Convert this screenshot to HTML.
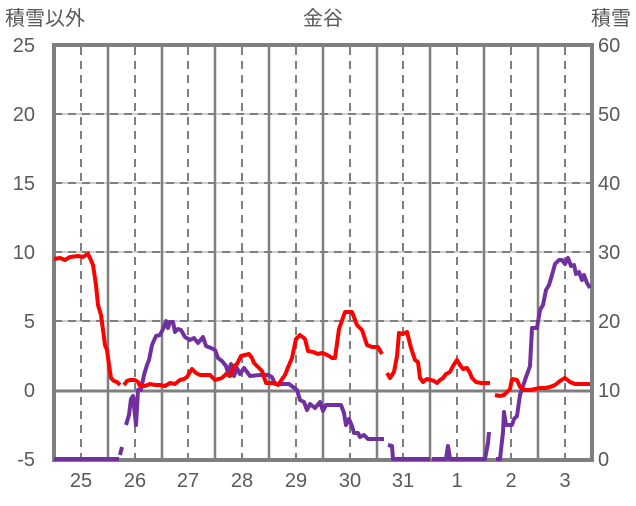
<!DOCTYPE html>
<html><head><meta charset="utf-8"><style>
body{margin:0;background:#fff}
svg text{font-family:"Liberation Sans","Noto Sans CJK JP",sans-serif;fill:#595959;font-size:20px}
</style></head><body>
<svg width="636" height="501" viewBox="0 0 636 501">
<g stroke="#bfbfbf" stroke-width="1.5">
<line x1="54" y1="114" x2="592" y2="114"/><line x1="54" y1="183" x2="592" y2="183"/><line x1="54" y1="252" x2="592" y2="252"/><line x1="54" y1="321" x2="592" y2="321"/>
</g>
<g stroke="#7f7f7f" stroke-width="2" stroke-dasharray="8,6">
<line x1="54" y1="114" x2="592" y2="114"/><line x1="54" y1="183" x2="592" y2="183"/><line x1="54" y1="252" x2="592" y2="252"/><line x1="54" y1="321" x2="592" y2="321"/>
<line x1="81" y1="47" x2="81" y2="460"/><line x1="135" y1="47" x2="135" y2="460"/><line x1="188" y1="47" x2="188" y2="460"/><line x1="242" y1="47" x2="242" y2="460"/><line x1="296" y1="47" x2="296" y2="460"/><line x1="350" y1="47" x2="350" y2="460"/><line x1="403" y1="47" x2="403" y2="460"/><line x1="457" y1="47" x2="457" y2="460"/><line x1="511" y1="47" x2="511" y2="460"/><line x1="565" y1="47" x2="565" y2="460"/>
</g>
<g stroke="#7f7f7f" stroke-width="2.5">
<line x1="108" y1="45" x2="108" y2="460"/><line x1="162" y1="45" x2="162" y2="460"/><line x1="215" y1="45" x2="215" y2="460"/><line x1="269" y1="45" x2="269" y2="460"/><line x1="323" y1="45" x2="323" y2="460"/><line x1="377" y1="45" x2="377" y2="460"/><line x1="430" y1="45" x2="430" y2="460"/><line x1="484" y1="45" x2="484" y2="460"/><line x1="538" y1="45" x2="538" y2="460"/>
<line x1="54" y1="391" x2="592" y2="391" stroke-width="3"/>
</g>
<rect x="54" y="45" width="538" height="415" fill="none" stroke="#7f7f7f" stroke-width="4"/>
<g fill="none" stroke="#7030a0" stroke-width="4" stroke-linejoin="round">
<polyline points="54,459 119,459"/>
<polyline points="120,455 122,447"/>
<polyline points="126,425 129,415 131,399 133,396 136,425 138,390 141,390 144,375 147,365 149,360 152,345 156,336 160,335 164,327 166,321 168,328 170,322 173,322 175,332 178,329 181,330 185,337 190,340 194,338 198,343 203,337 206,346 211,348 215,350 218,358 222,361 226,366 228,373 231,364 234,376 237,368 240,374 244,368 247,372 250,376 260,375 268,375 272,377 275,384 289,384 297,390 300,400 304,402 307,410 310,404 315,408 320,402 323,411 326,405 341,405 344,413 346,425 349,419 352,426 354,433 358,433 360,437 364,435 368,439 384,439"/>
<polyline points="388,445 392,446 393,459 430,459"/>
<polyline points="432,459 446,459 448,446 450,459 485,459 488,443 489,432"/>
<polyline points="496,459 500,459 503,432 504,412 506,425 512,425 514,419 517,416 520,395 525,380 530,366 532,328 537,328 540,310 543,305 546,290 549,285 552,275 555,264 559,260 562,260 565,264 568,258 571,266 574,265 576,274 579,272 582,280 584,275 587,283 590,288"/>
</g>
<g fill="none" stroke="#ff0000" stroke-width="4" stroke-linejoin="round">
<polyline points="54,259 60,258 65,260 70,257 78,256 83,257 86,255 88,254 90,258 93,265 96,285 98,305 101,315 103,330 105,345 107,350 109,365 111,378 114,381 117,382 120,385"/>
<polyline points="124,385 127,381 130,380 135,380 138,382 140,386 145,386 150,384 155,385 160,385 165,386 170,383 175,384 180,380 184,379 187,377 190,372 192,369 196,373 200,375 205,375 210,375 215,380 222,378 226,374 230,376 234,366 237,364 241,356 245,355 249,354 252,358 254,363 259,368 262,371 266,383 270,383 275,383 278,385 285,375 289,365 292,358 296,339 300,335 305,339 308,351 313,352 318,354 322,353 325,354 329,356 332,358 335,358 339,329 345,312 352,312 357,325 362,330 367,345 372,347 378,347 382,354"/>
<polyline points="387,373 390,378 394,372 397,356 399,333 403,334 407,332 411,348 415,360 418,362 420,378 423,382 427,379 431,380 434,381 437,383 440,380 443,378 446,374 450,372 453,366 457,360 460,365 463,369 467,368 470,373 472,378 476,382 481,383 490,383"/>
<polyline points="495,395 500,396 504,395 510,389 512,379 517,380 520,387 525,390 530,390 535,389 540,388 545,388 550,387 555,385 560,381 565,378 570,382 575,384 580,384 590,384"/>
</g>
<g text-anchor="end">
<text x="35" y="52">25</text><text x="35" y="121">20</text><text x="35" y="190">15</text><text x="35" y="259">10</text><text x="35" y="328">5</text><text x="35" y="397">0</text><text x="35" y="466">-5</text>
</g>
<g text-anchor="start">
<text x="598" y="52">60</text><text x="598" y="121">50</text><text x="598" y="190">40</text><text x="598" y="259">30</text><text x="598" y="328">20</text><text x="598" y="397">10</text><text x="598" y="466">0</text>
</g>
<g text-anchor="middle">
<text x="81" y="487">25</text><text x="135" y="487">26</text><text x="188" y="487">27</text><text x="242" y="487">28</text><text x="296" y="487">29</text><text x="350" y="487">30</text><text x="403" y="487">31</text><text x="457" y="487">1</text><text x="511" y="487">2</text><text x="565" y="487">3</text>
<text x="323" y="25">金谷</text>
</g>
<text x="5" y="25">積雪以外</text>
<text x="631" y="25" text-anchor="end">積雪</text>
</svg>
</body></html>
